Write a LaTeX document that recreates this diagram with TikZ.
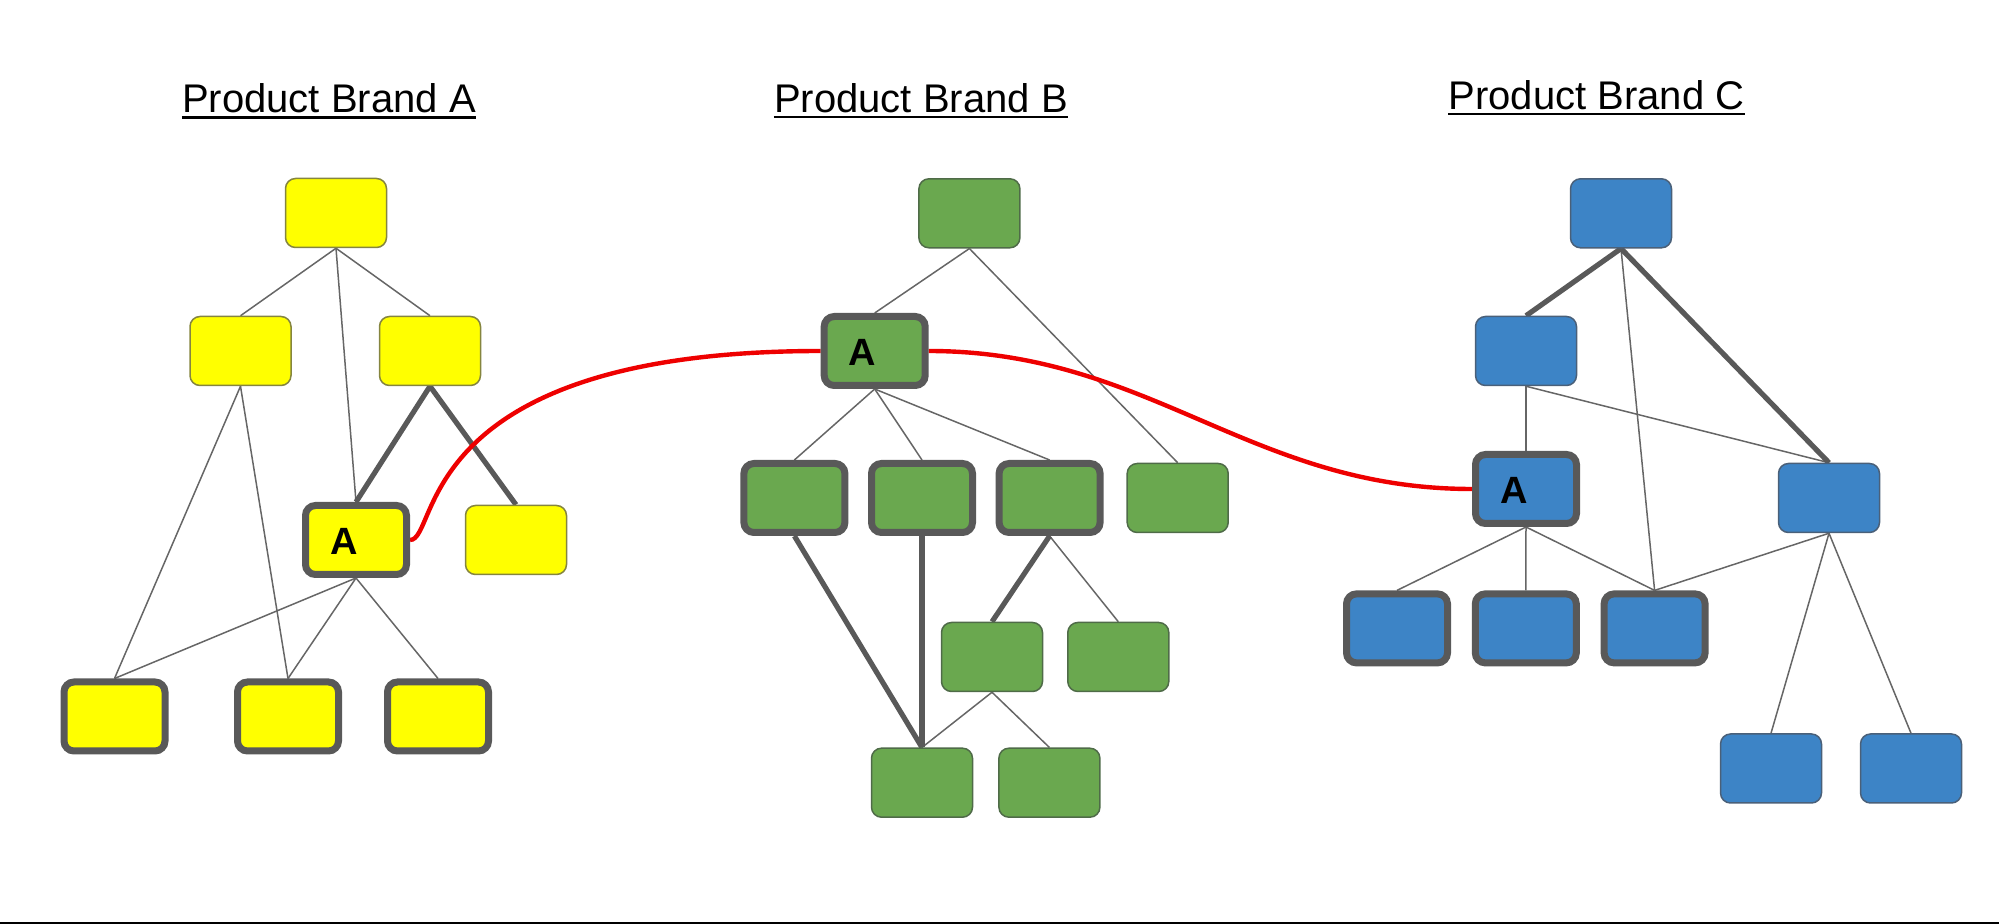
\documentclass[tikz,border=0pt]{standalone}
\usepackage{fontspec}
\setmainfont{Liberation Sans}
\usetikzlibrary{backgrounds}
\definecolor{yfill}{HTML}{FFFF00}
\definecolor{gfill}{HTML}{6AA84F}
\definecolor{bfill}{HTML}{3D84C6}
\definecolor{ybd}{HTML}{85853F}
\definecolor{gbd}{HTML}{4F6B48}
\definecolor{bbd}{HTML}{4A6079}
\definecolor{hubgray}{HTML}{595959}
\definecolor{edgegray}{HTML}{666666}
\definecolor{linkred}{HTML}{EE0000}
\begin{document}
\begin{tikzpicture}[x=0.5pt,y=-0.5pt,
  box/.style={rectangle, rounded corners=5pt, minimum width=50.5pt, minimum height=34.5pt, inner sep=0pt, line width=0.75pt},
  ybox/.style={box, fill=yfill, draw=ybd},
  gbox/.style={box, fill=gfill, draw=gbd},
  bluebox/.style={box, fill=bfill, draw=bbd},
  hub/.style={line width=3.5pt, draw=hubgray},
  shared/.style={hub, label={[font=\bfseries\fontsize{19pt}{22pt}\selectfont, xshift=-6pt, yshift=-0.5pt, inner sep=0pt]center:A}},
  slimedge/.style={draw=edgegray, line width=0.75pt},
  heavyedge/.style={draw=hubgray, line width=2.6pt},
  redlink/.style={draw=linkred, line width=2.2pt},
  title/.style={font=\fontsize{20pt}{24pt}\selectfont, inner sep=0pt, anchor=base}
]
\useasboundingbox (0,0) rectangle (1999,924);
\fill[black] (0,921.5) rectangle (1999,924);

% titles
\node[title] (tA) at (329,113) {Product Brand A};
\node[title] (tB) at (921,112.7) {Product Brand B};
\node[title] (tC) at (1596.5,109.3) {Product Brand C};
\foreach \t in {tA,tB,tC}
  \draw[line width=1.2pt] ([yshift=-2.3pt]\t.base west) -- ([yshift=-2.3pt]\t.base east);

% yellow tree
\node[ybox] (y1) at (336,213) {};
\node[ybox] (y2) at (240.5,351) {};
\node[ybox] (y3) at (430,351) {};
\node[ybox,shared] (yA) at (356,540) {};
\node[ybox] (y4) at (516,540) {};
\node[ybox,hub] (y5) at (114.5,716.5) {};
\node[ybox,hub] (y6) at (288,716.5) {};
\node[ybox,hub] (y7) at (438,716.5) {};

% green tree
\node[gbox] (g1) at (969.4,213.3) {};
\node[gbox,shared] (gA) at (874.7,351) {};
\node[gbox,hub] (g2) at (794.4,498) {};
\node[gbox,hub] (g3) at (922,498) {};
\node[gbox,hub] (g4) at (1049.6,498) {};
\node[gbox] (g5) at (1177.7,498) {};
\node[gbox] (g6) at (992,657) {};
\node[gbox] (g7) at (1118.3,657) {};
\node[gbox] (g8) at (922,782.7) {};
\node[gbox] (g9) at (1049.4,782.7) {};

% blue tree
\node[bluebox] (b1) at (1621,213.3) {};
\node[bluebox] (b2) at (1526,351) {};
\node[bluebox,shared] (bA) at (1526,489) {};
\node[bluebox] (b3) at (1829,498) {};
\node[bluebox,hub] (b4) at (1397,628.4) {};
\node[bluebox,hub] (b5) at (1525.8,628.4) {};
\node[bluebox,hub] (b6) at (1654.6,628.4) {};
\node[bluebox] (b7) at (1771,768.5) {};
\node[bluebox] (b8) at (1911,768.5) {};

\begin{pgfonlayer}{background}
\foreach \a/\b in {y1/y2,y1/y3,y1/yA,y2/y5,y2/y6,yA/y5,yA/y6,yA/y7,
                   g1/gA,g1/g5,gA/g2,gA/g3,gA/g4,g4/g7,g6/g8,g6/g9,
                   b1/b6,b2/bA,b2/b3,bA/b4,bA/b5,bA/b6,b3/b6,b3/b7,b3/b8}
  \draw[slimedge] (\a.south) -- (\b.north);
\foreach \a/\b in {y3/yA,y3/y4,g2/g8,g3/g8,g4/g6,b1/b2,b1/b3}
  \draw[heavyedge] (\a.south) -- (\b.north);
\draw[redlink] (yA.east) .. controls (440,540) and (410,351) .. (gA.west);
\draw[redlink] (gA.east) .. controls (1150,351) and (1250,489) .. (bA.west);
\end{pgfonlayer}
\end{tikzpicture}
\end{document}
